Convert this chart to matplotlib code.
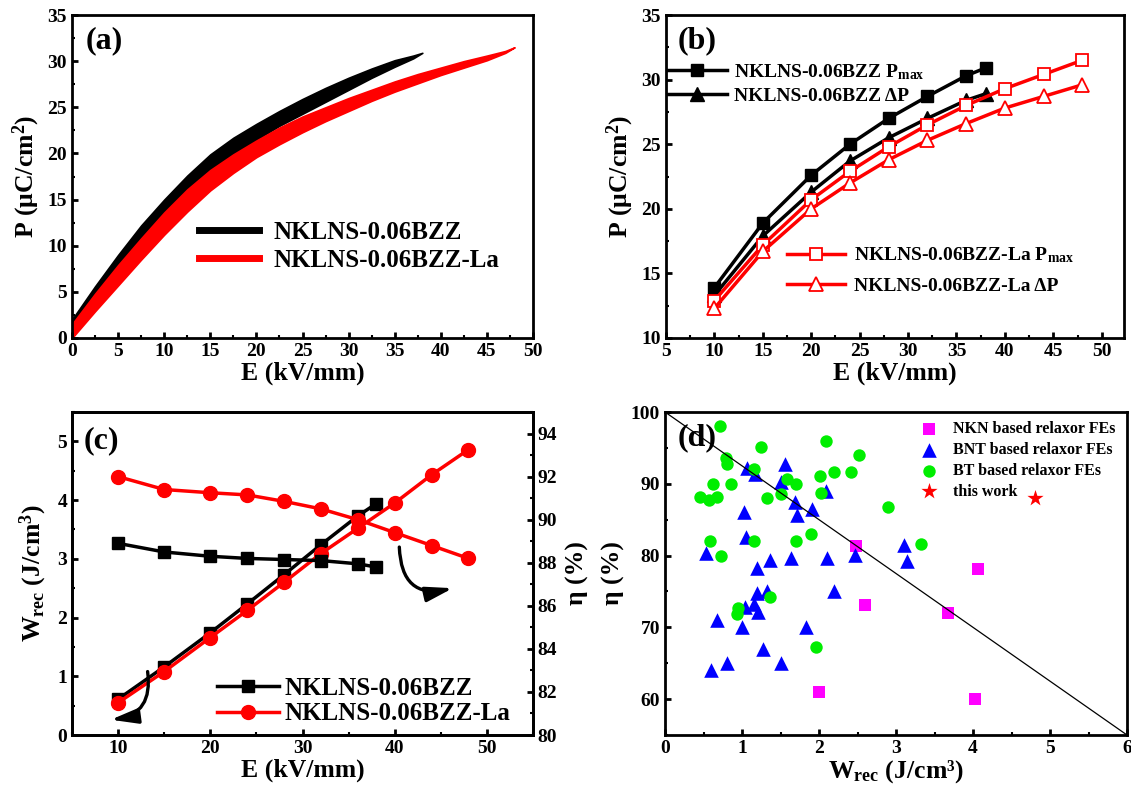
import matplotlib
matplotlib.use("Agg")
import matplotlib.pyplot as plt
from matplotlib.lines import Line2D
from matplotlib.ticker import MultipleLocator

# ---- (a) P-E loops: outer loop branches ----
E_loop_bzz = [0, 2.5, 5, 7.5, 10, 12.5, 15, 17.5, 20, 22.5, 25, 27.5, 30, 32.5, 35, 37, 38]
P_up_bzz = [2.0, 5.6, 9.0, 12.2, 15.0, 17.6, 19.9, 21.7, 23.2, 24.6, 25.9, 27.1,
            28.2, 29.2, 30.1, 30.6, 30.9]
P_dn_bzz = [0.8, 4.0, 7.1, 10.1, 12.9, 15.6, 17.9, 19.8, 21.5, 23.0, 24.3, 25.6,
            26.9, 28.2, 29.4, 30.3, 30.9]
E_loop_la = [0, 2.5, 5, 7.5, 10, 12.5, 15, 17.5, 20, 22.5, 25, 27.5, 30, 32.5, 35,
             37.5, 40, 42.5, 45, 47, 48]
P_up_la = [1.5, 4.8, 7.9, 10.8, 13.6, 16.1, 18.2, 19.9, 21.4, 22.8, 24.0, 25.0,
           26.0, 26.9, 27.8, 28.6, 29.3, 30.0, 30.6, 31.1, 31.5]
P_dn_la = [0.0, 2.9, 5.7, 8.5, 11.2, 13.7, 16.0, 17.9, 19.6, 21.0, 22.3, 23.5,
           24.6, 25.7, 26.7, 27.6, 28.5, 29.3, 30.1, 30.9, 31.5]

# ---- (b) Pmax and dP vs E ----
E_bzz = [10, 15, 20, 24, 28, 32, 36, 38]
Pmax_bzz = [13.9, 18.9, 22.6, 25.0, 27.0, 28.7, 30.3, 30.9]
dP_bzz = [13.3, 17.9, 21.3, 23.7, 25.5, 27.0, 28.4, 28.9]
E_la = [10, 15, 20, 24, 28, 32, 36, 40, 44, 48]
Pmax_la = [12.9, 17.2, 20.7, 22.9, 24.8, 26.5, 28.0, 29.3, 30.4, 31.5]
dP_la = [12.3, 16.7, 20.0, 22.0, 23.8, 25.3, 26.6, 27.8, 28.7, 29.6]

# ---- (c) Wrec and eta vs E ----
Wrec_bzz = [0.61, 1.16, 1.74, 2.23, 2.73, 3.24, 3.73, 3.94]
eta_bzz = [88.9, 88.5, 88.3, 88.2, 88.15, 88.1, 87.95, 87.8]
Wrec_la = [0.55, 1.08, 1.66, 2.12, 2.60, 3.09, 3.52, 3.95, 4.43, 4.86]
eta_la = [92.0, 91.4, 91.25, 91.15, 90.85, 90.5, 90.0, 89.4, 88.8, 88.2]

# ---- (d) comparison with literature ----
nkn_w = [2.48, 2.60, 2.00, 3.67, 4.07, 4.02]
nkn_eta = [81.4, 73.1, 61.0, 72.0, 78.1, 60.0]
bnt_w = [1.56, 1.06, 1.17, 1.51, 2.09, 1.69, 1.91, 1.71, 1.03, 1.05, 0.53, 1.19,
         1.36, 1.63, 2.11, 2.47, 3.10, 3.14, 1.19, 1.32, 1.15, 1.04, 1.21, 2.20,
         0.68, 1.00, 1.83, 1.27, 0.81, 1.51, 0.60]
bnt_eta = [92.7, 92.2, 91.3, 90.2, 89.0, 87.4, 86.5, 85.7, 86.0, 82.6, 80.4, 78.2,
           79.4, 79.7, 79.7, 80.1, 81.5, 79.2, 74.8, 75.1, 73.3, 72.8, 72.1, 75.0,
           71.0, 70.0, 70.0, 67.0, 65.0, 65.0, 64.0]
bt_w = [0.72, 2.09, 1.25, 2.52, 0.79, 0.80, 1.15, 2.20, 2.41, 2.01, 1.58, 1.70,
        0.62, 0.86, 0.45, 0.57, 0.67, 1.33, 1.50, 2.02, 2.90, 1.89, 0.58, 1.15,
        1.70, 0.73, 3.32, 1.36, 0.95, 0.94, 1.96]
bt_eta = [98.1, 96.0, 95.1, 94.0, 93.6, 92.7, 92.1, 91.6, 91.7, 91.1, 90.6, 90.0,
          90.0, 90.0, 88.2, 87.8, 88.1, 88.0, 88.6, 88.7, 86.8, 83.0, 82.0, 82.0,
          82.0, 80.0, 81.6, 74.2, 72.7, 71.9, 67.2]
this_w = [4.8]
this_eta = [88.0]
guide_w = [0, 6]
guide_eta = [100, 55]

plt.rcParams.update({
    "font.family": ["Liberation Serif", "DejaVu Serif"],
    "font.weight": "bold",
    "axes.labelweight": "bold",
    "mathtext.fontset": "custom",
    "mathtext.rm": "Liberation Serif:bold",
    "mathtext.it": "Liberation Serif:bold",
    "mathtext.bf": "Liberation Serif:bold",
    "axes.linewidth": 2.0,
    "xtick.direction": "in",
    "ytick.direction": "in",
    "xtick.major.width": 2.0,
    "ytick.major.width": 2.0,
    "xtick.minor.width": 1.5,
    "ytick.minor.width": 1.5,
    "xtick.major.size": 4,
    "ytick.major.size": 4,
    "xtick.minor.size": 2.5,
    "ytick.minor.size": 2.5,
    "xtick.labelsize": 14,
    "ytick.labelsize": 14,
    "axes.labelsize": 18.5,
})

W, H = 1131, 793
fig = plt.figure(figsize=(W / 100, H / 100), dpi=100)


def box(l, t, r, b):
    return [l / W, 1 - b / H, (r - l) / W, (b - t) / H]


def panel_tag(ax, s, x, y):
    ax.text(x, y, s, transform=ax.transAxes, fontsize=23, fontweight="bold",
            ha="left", va="top")


RED = "#ff0000"

# (a)
ax = fig.add_axes(box(72, 15, 533, 338))
ax.fill_between(E_loop_bzz, P_dn_bzz, P_up_bzz, color="black", lw=1.2)
ax.fill_between(E_loop_la, P_dn_la, P_up_la, color=RED, lw=1.2)
ax.set_xlim(0, 50)
ax.set_ylim(0, 35)
ax.xaxis.set_major_locator(MultipleLocator(5))
ax.xaxis.set_minor_locator(MultipleLocator(2.5))
ax.yaxis.set_major_locator(MultipleLocator(5))
ax.yaxis.set_minor_locator(MultipleLocator(2.5))
ax.set_xlabel("E (kV/mm)", labelpad=1)
ax.set_ylabel("P (\u03bcC/cm$^{2}$)", labelpad=4)
panel_tag(ax, "(a)", 0.03, 0.965)
hs = [Line2D([], [], color="black", lw=5), Line2D([], [], color=RED, lw=5)]
ax.legend(hs, ["NKLNS-0.06BZZ", "NKLNS-0.06BZZ-La"], loc="center left",
          bbox_to_anchor=(0.275, 0.283), frameon=False, fontsize=18,
          handlelength=2.4, handletextpad=0.6, labelspacing=0.2,
          borderpad=0, borderaxespad=0)

# (b)
ax = fig.add_axes(box(666, 15, 1124, 338))
l1, = ax.plot(E_bzz, Pmax_bzz, "-s", color="black", lw=2.5, ms=9)
l2, = ax.plot(E_bzz, dP_bzz, "-^", color="black", lw=2.5, ms=10)
l3, = ax.plot(E_la, Pmax_la, "-s", color=RED, lw=2.5, ms=9, mfc="white", mew=1.3)
l4, = ax.plot(E_la, dP_la, "-^", color=RED, lw=2.5, ms=10, mfc="white", mew=1.3)
ax.set_xlim(5, 52.3)
ax.set_ylim(10, 35)
ax.xaxis.set_major_locator(MultipleLocator(5))
ax.xaxis.set_minor_locator(MultipleLocator(2.5))
ax.yaxis.set_major_locator(MultipleLocator(5))
ax.yaxis.set_minor_locator(MultipleLocator(2.5))
ax.set_xlabel("E (kV/mm)", labelpad=1)
ax.set_ylabel("P (\u03bcC/cm$^{2}$)", labelpad=4)
panel_tag(ax, "(b)", 0.026, 0.965)
leg1 = ax.legend([l1, l2], ["NKLNS-0.06BZZ P$_{\\rm max}$", "NKLNS-0.06BZZ \u0394P"],
                 loc="center left", bbox_to_anchor=(0.005, 0.788), frameon=False,
                 fontsize=14, handlelength=3.0, handletextpad=0.4,
                 labelspacing=0.3, borderpad=0, borderaxespad=0)
ax.add_artist(leg1)
ax.legend([l3, l4], ["NKLNS-0.06BZZ-La P$_{\\rm max}$", "NKLNS-0.06BZZ-La \u0394P"],
          loc="center left", bbox_to_anchor=(0.264, 0.21), frameon=False,
          fontsize=14, handlelength=3.0, handletextpad=0.45,
          labelspacing=0.6, borderpad=0, borderaxespad=0)

# (c)
ax = fig.add_axes(box(72, 412, 533, 735))
ax2 = ax.twinx()
c1, = ax.plot(E_bzz, Wrec_bzz, "-s", color="black", lw=2.5, ms=9)
c2, = ax.plot(E_la, Wrec_la, "-o", color=RED, lw=2.5, ms=10)
ax2.plot(E_bzz, eta_bzz, "-s", color="black", lw=2.5, ms=9)
ax2.plot(E_la, eta_la, "-o", color=RED, lw=2.5, ms=10)
ax.set_xlim(5, 55)
ax.set_ylim(0, 5.5)
ax2.set_ylim(80, 95)
ax.xaxis.set_major_locator(MultipleLocator(10))
ax.xaxis.set_minor_locator(MultipleLocator(5))
ax.yaxis.set_major_locator(MultipleLocator(1))
ax.yaxis.set_minor_locator(MultipleLocator(0.5))
ax2.yaxis.set_major_locator(MultipleLocator(2))
ax2.yaxis.set_minor_locator(MultipleLocator(1))
ax2.tick_params(which="both", direction="in")
ax.set_xlabel("E (kV/mm)", labelpad=1)
ax.set_ylabel("W$_{\\rm rec}$ (J/cm$^{3}$)", labelpad=6)
ax2.set_ylabel("\u03b7 (%)", labelpad=6)
panel_tag(ax, "(c)", 0.025, 0.955)
arrow = dict(arrowstyle="-|>,head_length=0.9,head_width=0.25", color="black",
             lw=2.4, mutation_scale=18, shrinkA=0, shrinkB=0)
ax.annotate("", xy=(46.3, 2.5), xytext=(40.5, 3.2),
            arrowprops=dict(arrow, connectionstyle="arc3,rad=0.6"))
ax.annotate("", xy=(9.2, 0.26), xytext=(13.2, 1.08),
            arrowprops=dict(arrow, connectionstyle="arc3,rad=-0.5"))
ax2.legend([c1, c2], ["NKLNS-0.06BZZ", "NKLNS-0.06BZZ-La"], loc="center left",
           bbox_to_anchor=(0.314, 0.105), frameon=False, fontsize=18,
           handlelength=2.5, handletextpad=0.2, labelspacing=0.1,
           borderpad=0, borderaxespad=0)

# (d)
ax = fig.add_axes(box(665, 412, 1127, 735))
s1 = ax.scatter(nkn_w, nkn_eta, marker="s", s=64, color="#ff00ff", lw=0)
s2 = ax.scatter(bnt_w, bnt_eta, marker="^", s=110, color="#0000ff", lw=0)
s3 = ax.scatter(bt_w, bt_eta, marker="o", s=80, color="#00ee00", lw=0)
s4 = ax.scatter(this_w, this_eta, marker="*", s=150, color=RED, lw=0)
ax.plot(guide_w, guide_eta, color="black", lw=0.9, zorder=3)
ax.set_xlim(0, 6)
ax.set_ylim(55, 100)
ax.xaxis.set_major_locator(MultipleLocator(1))
ax.xaxis.set_minor_locator(MultipleLocator(0.5))
ax.yaxis.set_major_locator(MultipleLocator(10))
ax.yaxis.set_minor_locator(MultipleLocator(5))
ax.set_xlabel("W$_{\\rm rec}$ (J/cm\u00b3)", labelpad=1)
ax.set_ylabel("\u03b7 (%)", labelpad=4)
panel_tag(ax, "(d)", 0.027, 0.965)
ax.legend([s1, s2, s3, s4], ["NKN based relaxor FEs", "BNT based relaxor FEs",
                             "BT based relaxor FEs", "this work"],
          loc="center left", bbox_to_anchor=(0.555, 0.85), frameon=False,
          fontsize=11.5, handlelength=1.0, handletextpad=1.0,
          labelspacing=0.3, borderpad=0, borderaxespad=0, scatterpoints=1)

fig.savefig("out.png", dpi=100)
